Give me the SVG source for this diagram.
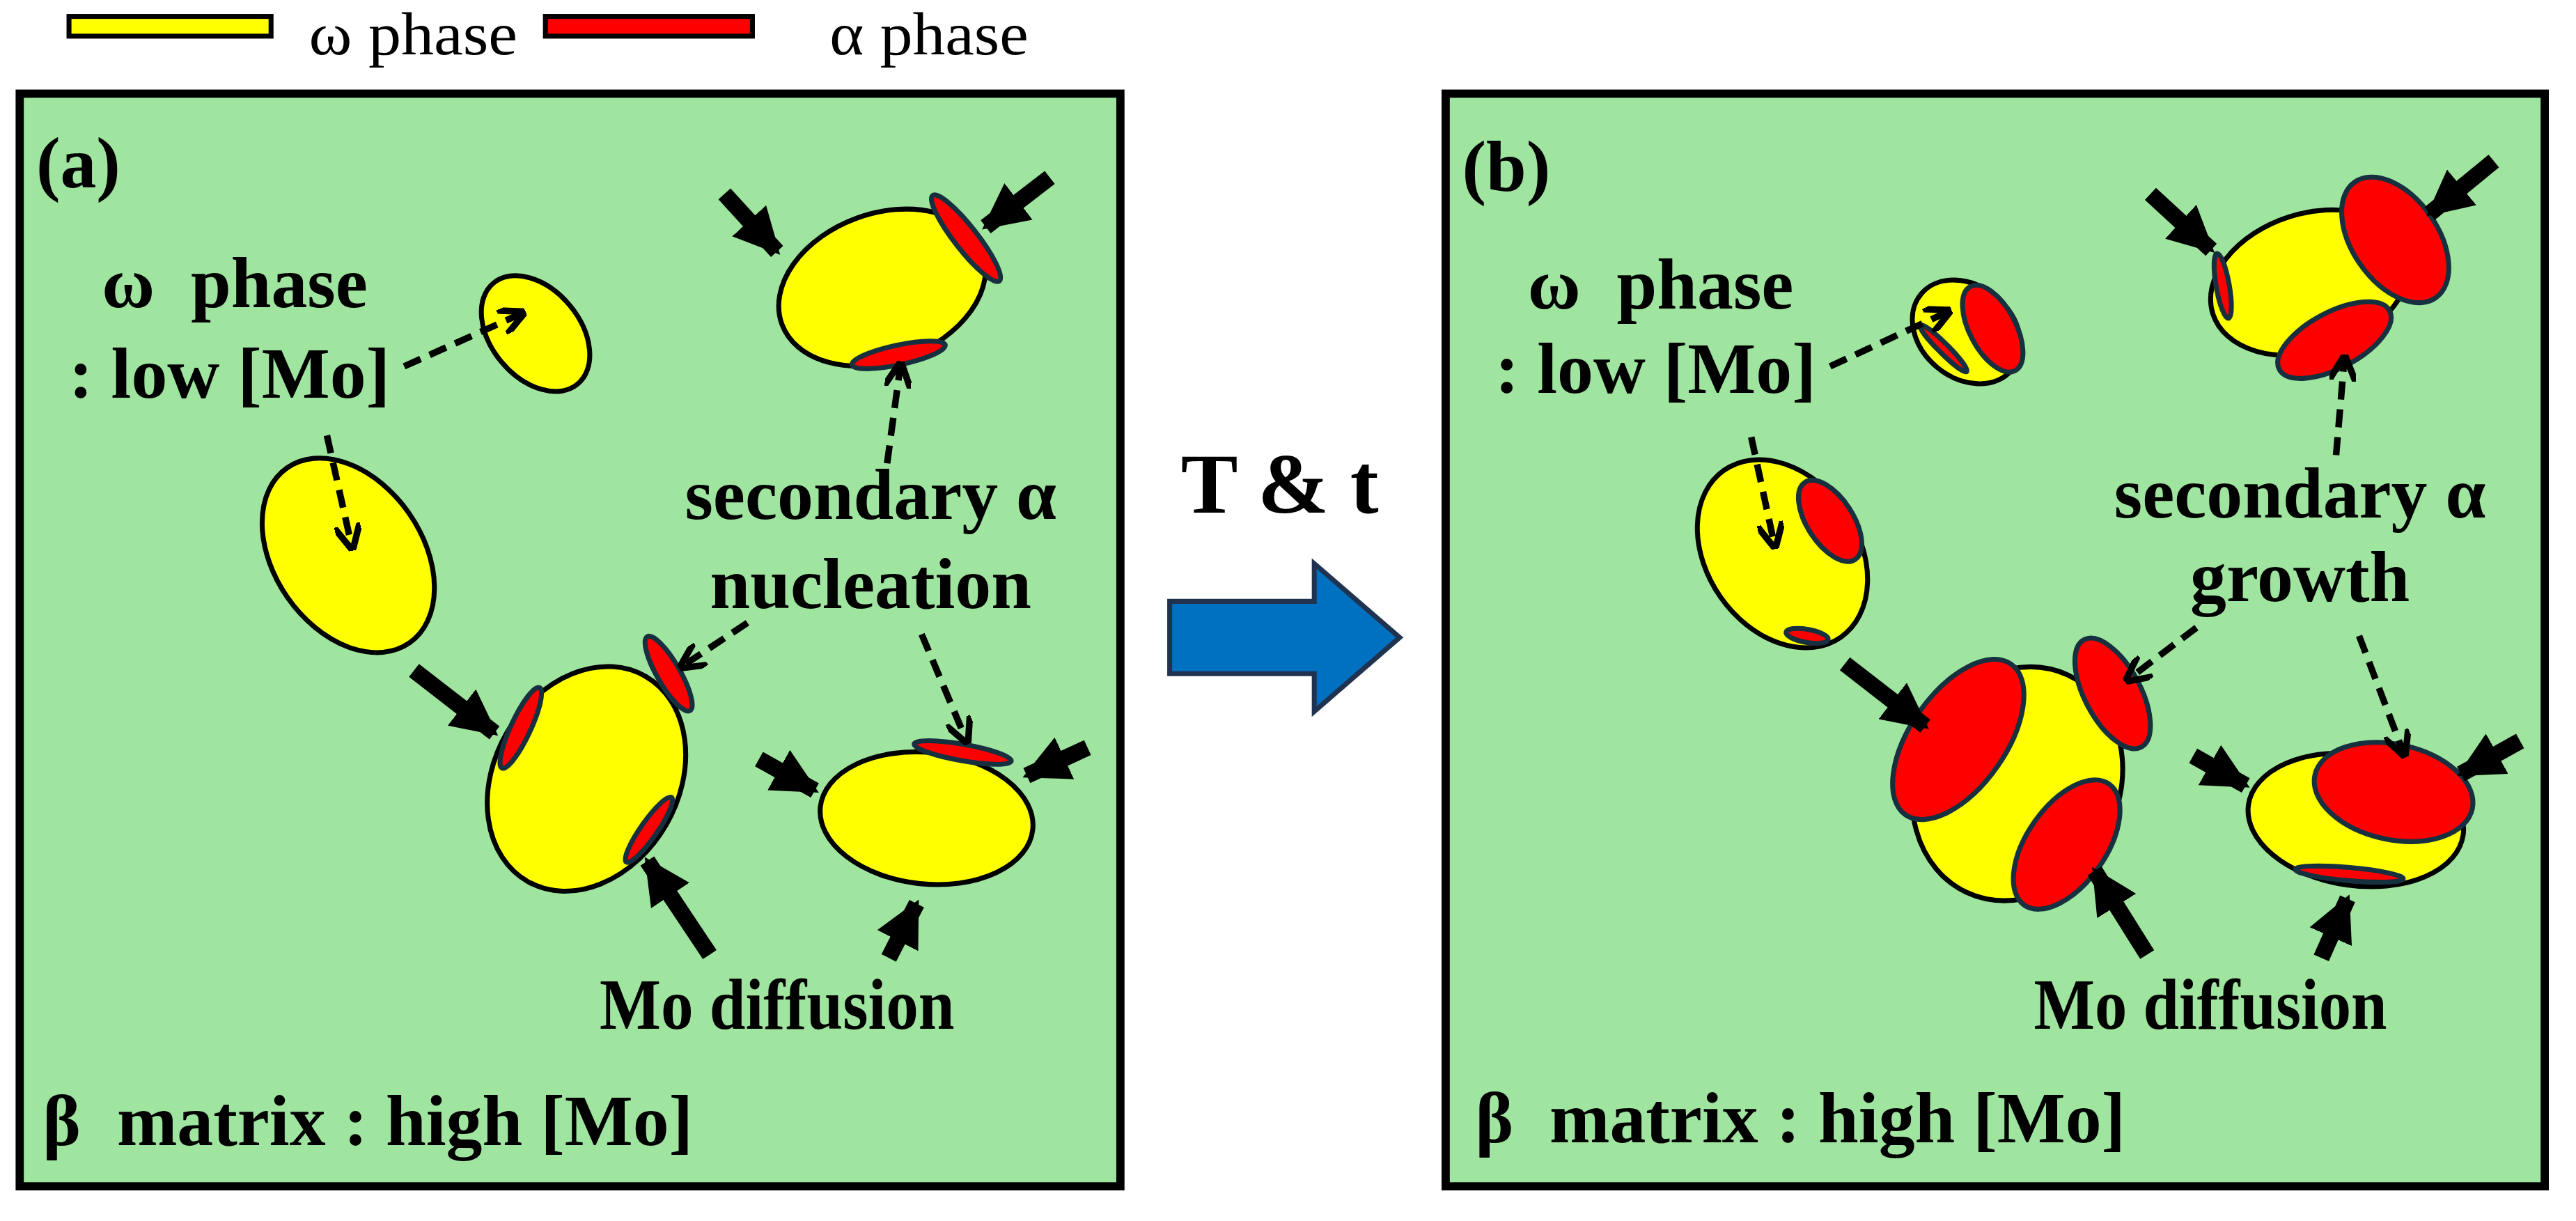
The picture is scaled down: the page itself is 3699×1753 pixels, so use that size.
<svg xmlns="http://www.w3.org/2000/svg" width="3699" height="1753" viewBox="0 0 3699 1753">
<defs>
<style>
.t{font-family:"Liberation Serif","Times New Roman",serif;font-weight:bold;font-size:44px;fill:#000}
.lg{font-family:"Liberation Serif","Times New Roman",serif;font-size:37px;fill:#000}
.y{fill:#FFFF00;stroke:#000;stroke-width:3}
.r{fill:#FF0000;stroke:#173040;stroke-width:3}
.box{fill:#9FE5A0;stroke:#000;stroke-width:5}
.thick{stroke:#000;stroke-width:10;fill:none;marker-end:url(#th)}
.dash{stroke:#000;stroke-width:4;fill:none;stroke-dasharray:11 6;marker-end:url(#dh)}
</style>
<marker id="th" viewBox="0 0 10 10" refX="9" refY="5" markerWidth="2.8" markerHeight="2.8" orient="auto" markerUnits="strokeWidth"><path d="M0,0L10,5L0,10z" fill="#000"/></marker>
<marker id="dh" viewBox="0 0 10 10" refX="8" refY="5" markerWidth="4" markerHeight="4" orient="auto" markerUnits="strokeWidth"><path d="M0,0L10,5L0,10" fill="none" stroke="#000" stroke-width="2.5"/></marker>
</defs>
<rect width="3699" height="1753" fill="#fff"/>
<g transform="scale(2.359)">
<g id="legend">
<rect x="42" y="10" width="123" height="12" fill="#FFFF00" stroke="#000" stroke-width="3"/>
<text class="lg" x="188" y="33" textLength="127" lengthAdjust="spacingAndGlyphs">ω phase</text>
<rect x="332" y="10" width="126" height="12" fill="#FF0000" stroke="#000" stroke-width="3"/>
<text class="lg" x="505" y="33" textLength="121" lengthAdjust="spacingAndGlyphs">α phase</text>
</g>
<g id="panel-a">
<rect class="box" x="12" y="57" width="670" height="665"/>
<text class="t" x="22" y="114">(a)</text>
<text class="t" x="62" y="187" xml:space="preserve">ω  phase</text>
<text class="t" x="42" y="242">: low [Mo]</text>
<text class="t" x="530" y="316" text-anchor="middle">secondary α</text>
<text class="t" x="530" y="370" text-anchor="middle">nucleation</text>
<text class="t" x="365" y="626" textLength="216" lengthAdjust="spacingAndGlyphs">Mo diffusion</text>
<text class="t" x="26" y="697" xml:space="preserve">β  matrix : high [Mo]</text>
<ellipse class="y" cx="326" cy="203" rx="40" ry="27" transform="rotate(50 326 203)"/>
<ellipse class="y" cx="212" cy="338" rx="65" ry="45" transform="rotate(55 212 338)"/>
<ellipse class="y" cx="357" cy="474" rx="72" ry="56" transform="rotate(-60 357 474)"/>
<ellipse class="y" cx="537" cy="175" rx="65" ry="45" transform="rotate(-20 537 175)"/>
<ellipse class="y" cx="564" cy="498" rx="65" ry="40" transform="rotate(6 564 498)"/>
<ellipse class="r" cx="588" cy="145" rx="33" ry="7" transform="rotate(52 588 145)"/>
<ellipse class="r" cx="547" cy="216" rx="29" ry="6" transform="rotate(-12 547 216)"/>
<ellipse class="r" cx="407" cy="410" rx="26" ry="7" transform="rotate(60 407 410)"/>
<ellipse class="r" cx="317" cy="443" rx="27" ry="6" transform="rotate(-65 317 443)"/>
<ellipse class="r" cx="395" cy="505" rx="24" ry="5" transform="rotate(-55 395 505)"/>
<ellipse class="r" cx="586" cy="458" rx="30" ry="5" transform="rotate(10 586 458)"/>
</g>
<g id="panel-b">
<rect class="box" x="880" y="57" width="669" height="665"/>
<text class="t" x="890" y="116">(b)</text>
<text class="t" x="930" y="188" xml:space="preserve">ω  phase</text>
<text class="t" x="910" y="239">: low [Mo]</text>
<text class="t" x="1400" y="315" text-anchor="middle">secondary α</text>
<text class="t" x="1400" y="366" text-anchor="middle">growth</text>
<text class="t" x="1238" y="626" textLength="215" lengthAdjust="spacingAndGlyphs">Mo diffusion</text>
<text class="t" x="898" y="695" xml:space="preserve">β  matrix : high [Mo]</text>
<ellipse class="y" cx="1197" cy="202" rx="36" ry="28" transform="rotate(40 1197 202)"/>
<ellipse class="r" cx="1213" cy="200" rx="29" ry="14" transform="rotate(62 1213 200)"/>
<ellipse class="r" cx="1183" cy="212" rx="20" ry="3" transform="rotate(45 1183 212)"/>
<ellipse class="y" cx="1406" cy="172" rx="62" ry="42" transform="rotate(-18 1406 172)"/>
<ellipse class="r" cx="1458" cy="146" rx="43" ry="26" transform="rotate(55 1458 146)"/>
<ellipse class="r" cx="1421" cy="207" rx="38" ry="17" transform="rotate(-28 1421 207)"/>
<ellipse class="r" cx="1353" cy="174" rx="20" ry="4" transform="rotate(80 1353 174)"/>
<ellipse class="y" cx="1085" cy="337" rx="62" ry="46" transform="rotate(55 1085 337)"/>
<ellipse class="r" cx="1114" cy="317" rx="28" ry="14" transform="rotate(57 1114 317)"/>
<ellipse class="r" cx="1100" cy="387" rx="13" ry="4" transform="rotate(10 1100 387)"/>
<ellipse class="y" cx="1228" cy="477" rx="73" ry="62" transform="rotate(-65 1228 477)"/>
<ellipse class="r" cx="1192" cy="450" rx="56" ry="29" transform="rotate(-55 1192 450)"/>
<ellipse class="r" cx="1286" cy="422" rx="37" ry="17" transform="rotate(62 1286 422)"/>
<ellipse class="r" cx="1258" cy="514" rx="45" ry="24" transform="rotate(-55 1258 514)"/>
<ellipse class="y" cx="1434" cy="499" rx="66" ry="40" transform="rotate(8 1434 499)"/>
<ellipse class="r" cx="1457" cy="482" rx="49" ry="29" transform="rotate(12 1457 482)"/>
<ellipse class="r" cx="1430" cy="532" rx="33" ry="4" transform="rotate(5 1430 532)"/>
</g>
<g id="transition">
<text class="t" x="779" y="312" text-anchor="middle" style="font-size:52px">T &amp; t</text>
<path d="M712,366H800V343L852,388L800,433V410H712Z" fill="#0070C0" stroke="#1F3350" stroke-width="3"/>
</g>
<g id="connectors">
<path class="dash" d="M246,223L317,191"/>
<path class="dash" d="M199,265L214,332"/>
<path class="dash" d="M540,282L548,223"/>
<path class="dash" d="M455,379L416,405"/>
<path class="dash" d="M561,386L588,450"/>
<path class="thick" d="M441,118L473,153"/>
<path class="thick" d="M639,108L600,138"/>
<path class="thick" d="M252,408L301,446"/>
<path class="thick" d="M432,581L394,524"/>
<path class="thick" d="M541,583L558,550"/>
<path class="thick" d="M462,462L496,481"/>
<path class="thick" d="M662,455L625,472"/>
<path class="dash" d="M1114,223L1185,190"/>
<path class="dash" d="M1066,266L1080,331"/>
<path class="dash" d="M1422,277L1427,219"/>
<path class="dash" d="M1337,382L1296,413"/>
<path class="dash" d="M1436,387L1463,458"/>
<path class="thick" d="M1309,118L1346,152"/>
<path class="thick" d="M1518,98L1479,130"/>
<path class="thick" d="M1123,404L1172,442"/>
<path class="thick" d="M1307,581L1275,530"/>
<path class="thick" d="M1413,583L1429,547"/>
<path class="thick" d="M1335,460L1367,478"/>
<path class="thick" d="M1534,451L1498,471"/>
</g>
</g>
</svg>
